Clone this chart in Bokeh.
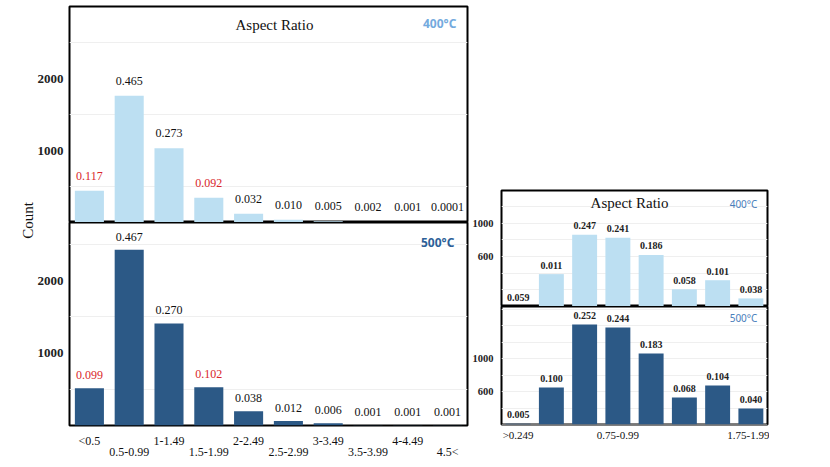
import math
from bokeh.plotting import figure
from bokeh.models import ColumnDataSource, FixedTicker, LinearAxis, Label, Spacer, Range1d
from bokeh.layouts import row, column
from bokeh.embed import file_html
from bokeh.resources import INLINE

# ---------------- data ----------------
left_categories = ["<0.5", "0.5-0.99", "1-1.49", "1.5-1.99", "2-2.49",
                   "2.5-2.99", "3-3.49", "3.5-3.99", "4-4.49", "4.5<"]
left_400_counts = [440, 1760, 1030, 345, 120, 38, 19, 8, 4, 1]
left_400_labels = ["0.117", "0.465", "0.273", "0.092", "0.032",
                   "0.010", "0.005", "0.002", "0.001", "0.0001"]
left_500_counts = [515, 2430, 1410, 530, 198, 62, 31, 5, 5, 5]
left_500_labels = ["0.099", "0.467", "0.270", "0.102", "0.038",
                   "0.012", "0.006", "0.001", "0.001", "0.001"]
highlighted_bins = ["<0.5", "1.5-1.99"]
left_y_ticks = [1000, 2000]
left_grid = [500, 1500, 2500]

right_categories = ["0-0.249", "0.25-0.49", "0.5-0.74", "0.75-0.99",
                    "1-1.24", "1.25-1.49", "1.5-1.74", "1.75-1.99"]
right_tick_labels = [">0.249", "", "", "0.75-0.99", "", "", "", "1.75-1.99"]
right_400_counts = [5, 388, 860, 824, 618, 206, 315, 97]
right_400_labels = ["0.059", "0.011", "0.247", "0.241", "0.186", "0.058", "0.101", "0.038"]
right_500_counts = [215, 655, 1418, 1382, 1067, 533, 679, 400]
right_500_labels = ["0.005", "0.100", "0.252", "0.244", "0.183", "0.068", "0.104", "0.040"]
right_y_ticks = [600, 1000]
right_grid = [200, 400, 600, 800, 1000, 1200, 1400, 1600]

# ---------------- style ----------------
LIGHT = "#bcdff2"
DARK = "#2c5986"
RED = "#d9262b"
SERIF = "Liberation Serif"
SANS = "Noto Sans"


def style_panel(p, yticks, grid):
    p.outline_line_color = "black"
    p.outline_line_width = 2
    p.xgrid.grid_line_color = None
    p.ygrid.ticker = FixedTicker(ticks=grid)
    p.ygrid.grid_line_color = "#efefef"
    p.yaxis.ticker = FixedTicker(ticks=yticks)
    p.yaxis.axis_line_color = None
    p.yaxis.major_tick_line_color = None
    p.yaxis.minor_tick_line_color = None
    p.yaxis.major_tick_out = 0
    p.yaxis.major_tick_in = 0
    p.yaxis.minor_tick_out = 0
    p.yaxis.major_label_text_font = SERIF
    p.yaxis.major_label_text_font_style = "bold"
    p.yaxis.major_label_text_color = "#222222"
    p.background_fill_color = "white"
    p.border_fill_color = "white"


def style_xaxis(ax, standoff, size):
    ax.axis_line_color = None
    ax.major_tick_line_color = None
    ax.minor_tick_line_color = None
    ax.major_tick_out = 0
    ax.major_tick_in = 0
    ax.minor_tick_out = 0
    ax.major_label_standoff = standoff
    ax.major_label_text_font = SERIF
    ax.major_label_text_font_size = size
    ax.major_label_text_color = "#111111"


def left_panel(counts, labels, color, yend, fh, label_off, top):
    n = len(left_categories)
    xs = list(range(n))
    colors = [RED if c in highlighted_bins else "#111111" for c in left_categories]
    src = ColumnDataSource(dict(x=xs, top=counts, lab=labels, col=colors))
    p = figure(frame_width=398, frame_height=fh, x_range=Range1d(-0.5, n - 0.5),
               y_range=Range1d(0, yend), output_backend="svg", toolbar_location=None,
               x_axis_location="below" if not top else None,
               min_border_left=34, min_border_right=2,
               min_border_top=6 if top else 0, min_border_bottom=0)
    p.vbar(x="x", top="top", width=0.73, bottom=0, source=src, fill_color=color, line_color=None)
    p.text(x="x", y="top", text="lab", source=src, text_align="center", text_baseline="middle",
           y_offset=label_off, text_font_size="12px", text_font={"value": SERIF},
           text_color="col")
    style_panel(p, left_y_ticks, left_grid)
    p.yaxis.major_label_text_font_size = "13px"
    p.yaxis.major_label_standoff = 6
    return p


lt = left_panel(left_400_counts, left_400_labels, LIGHT, 3000, 216, -15, True)
lt.add_layout(Label(x=4.65, y=2750, text="Aspect Ratio", text_align="center", text_baseline="middle",
                    text_font=SERIF, text_font_size="15px", text_color="#111111"))
lt.add_layout(Label(x=8.8, y=2764, text="400°C", text_align="center", text_baseline="middle",
                    text_font=SANS, text_font_size="12px", text_font_style="bold",
                    text_color="#74aade"))

lb = left_panel(left_500_counts, left_500_labels, DARK, 2806, 203, -13, False)
lb.add_layout(Label(x=8.75, y=2529, text="500°C", text_align="center", text_baseline="middle",
                    text_font=SANS, text_font_size="12px", text_font_style="bold",
                    text_color="#2d5f98"))
even_ticks = [i for i in range(len(left_categories)) if i % 2 == 0]
odd_ticks = [i for i in range(len(left_categories)) if i % 2 == 1]
ax1 = lb.xaxis[0]
ax1.ticker = FixedTicker(ticks=even_ticks)
ax1.major_label_overrides = {i: left_categories[i] for i in even_ticks}
ax2 = LinearAxis(ticker=FixedTicker(ticks=odd_ticks),
                 major_label_overrides={i: left_categories[i] for i in odd_ticks})
lb.add_layout(ax2, "below")
style_xaxis(ax1, 8, "12px")
style_xaxis(ax2, -6, "12px")

# "Count" axis title figure
cf = figure(width=27, height=434, x_range=(0, 1), y_range=(0, 1), output_backend="svg",
            toolbar_location=None, x_axis_location=None, y_axis_location="left",
            min_border_left=26, min_border_right=0, min_border_top=6, min_border_bottom=0,
            outline_line_color=None)
cf.grid.grid_line_color = None
cf.yaxis.ticker = FixedTicker(ticks=[])
cf.yaxis.axis_line_color = None
cf.yaxis.major_tick_out = 0
cf.yaxis.minor_tick_out = 0
cf.yaxis.major_label_text_font_size = "0px"
cf.yaxis.axis_label = "Count"
cf.yaxis.axis_label_standoff = -2
cf.yaxis.axis_label_text_font = SERIF
cf.yaxis.axis_label_text_font_size = "15px"
cf.yaxis.axis_label_text_font_style = "normal"
cf.yaxis.axis_label_text_color = "#111111"


def right_panel(counts, labels, color, ystart, yend, fh, top):
    n = len(right_categories)
    xs = list(range(n))
    src = ColumnDataSource(dict(x=xs, top=counts, lab=labels))
    p = figure(frame_width=266, frame_height=fh, x_range=Range1d(-0.5, n - 0.5),
               y_range=Range1d(ystart, yend), output_backend="svg", toolbar_location=None,
               x_axis_location=None if top else "below",
               min_border_left=32, min_border_right=2,
               min_border_top=1 if top else 0, min_border_bottom=0)
    p.vbar(x="x", top="top", width=0.75, bottom=0, source=src, fill_color=color, line_color=None)
    p.text(x="x", y="top", text="lab", source=src, text_align="center", text_baseline="middle",
           y_offset=-9, text_font_size="10px", text_font={"value": SERIF},
           text_font_style="bold", text_color="#222222")
    style_panel(p, right_y_ticks, right_grid)
    p.yaxis.major_label_text_font_size = "10.5px"
    p.yaxis.major_label_standoff = 8
    return p


rt = right_panel(right_400_counts, right_400_labels, LIGHT, 0, 1390, 116, True)
rt.add_layout(Label(x=3.35, y=1246, text="Aspect Ratio", text_align="center", text_baseline="middle",
                    text_font=SERIF, text_font_size="15px", text_color="#111111"))
rt.add_layout(Label(x=6.78, y=1232, text="400°C", text_align="center", text_baseline="middle",
                    text_font=SANS, text_font_size="10px", text_color="#4a7ebb"))

rb = right_panel(right_500_counts, right_500_labels, DARK, 206, 1636, 118, False)
rb.add_layout(Label(x=6.78, y=1491, text="500°C", text_align="center", text_baseline="middle",
                    text_font=SANS, text_font_size="10px", text_color="#4a7ebb"))
rb.xaxis.ticker = FixedTicker(ticks=list(range(len(right_categories))))
rb.xaxis.major_label_overrides = {i: t for i, t in enumerate(right_tick_labels)}
style_xaxis(rb.xaxis[0], 4, "11px")

layout = row(Spacer(width=7, height=10), cf, column(lt, lb),
             column(Spacer(width=300, height=189), rt, rb))

open("out.html", "w").write(file_html(layout, INLINE))
